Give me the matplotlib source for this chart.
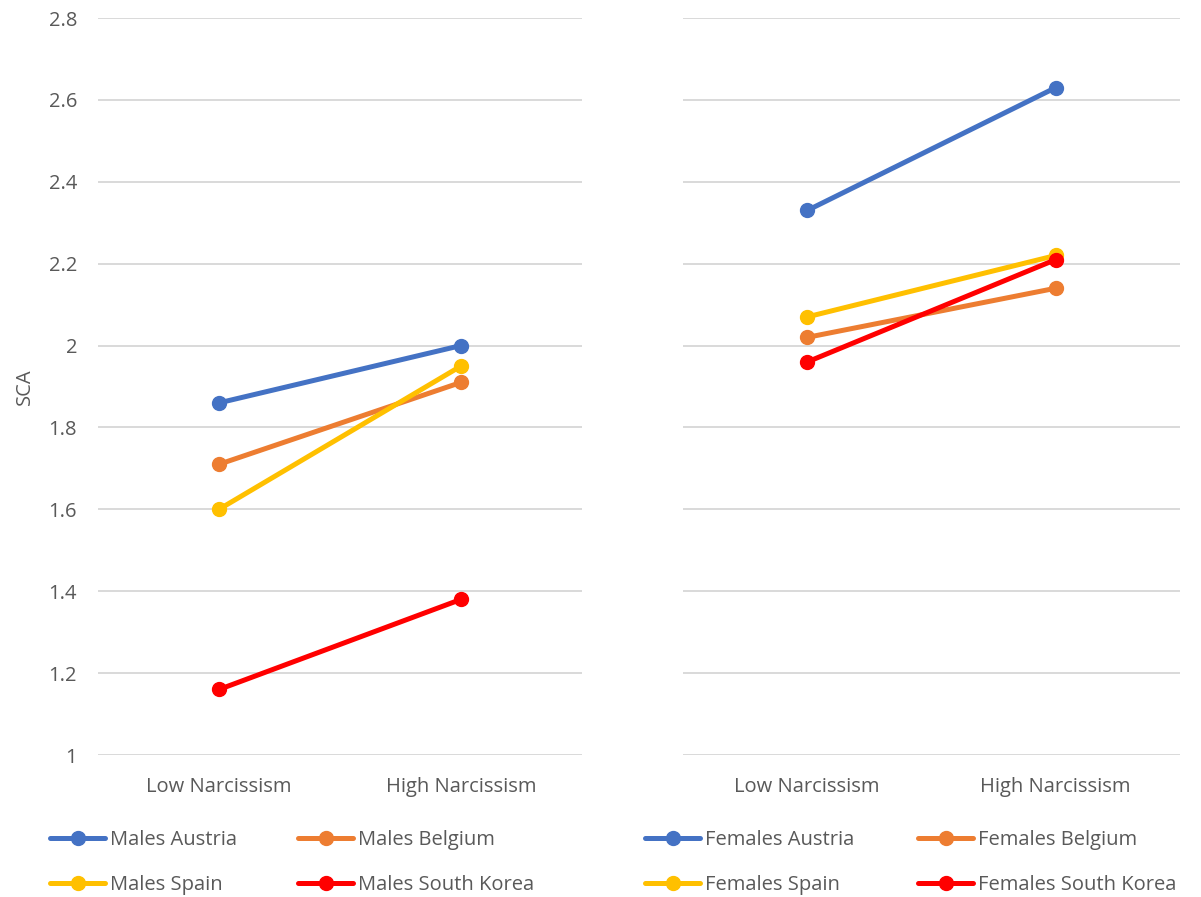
import matplotlib.pyplot as plt
from matplotlib.ticker import FuncFormatter

# --- data ---
categories = ["Low Narcissism", "High Narcissism"]
countries = ["Austria", "Belgium", "Spain", "South Korea"]
colors = ["#4472C4", "#ED7D31", "#FFC000", "#FF0000"]

males_austria = [1.86, 2.00]
males_belgium = [1.71, 1.91]
males_spain = [1.60, 1.95]
males_south_korea = [1.16, 1.38]

females_austria = [2.33, 2.63]
females_belgium = [2.02, 2.14]
females_spain = [2.07, 2.22]
females_south_korea = [1.96, 2.21]

males = [males_austria, males_belgium, males_spain, males_south_korea]
females = [females_austria, females_belgium, females_spain, females_south_korea]

plt.rcParams['font.family'] = ['Open Sans', 'DejaVu Sans']
txt = "#595959"
grid = "#D9D9D9"
fs = 14.5

fig = plt.figure(figsize=(12.01, 8.97), dpi=100)
ax1 = fig.add_axes([98 / 1201, 1 - 755 / 897, 484 / 1201, 737 / 897])
ax2 = fig.add_axes([683 / 1201, 1 - 755 / 897, 497 / 1201, 737 / 897])


def draw(ax, series, prefix, show_y):
    x = range(len(categories))
    lines = []
    for vals, c, name in zip(series, colors, countries):
        ln, = ax.plot(x, vals, color=c, lw=3.6, marker='o', ms=10,
                      label=f"{prefix} {name}", solid_capstyle='round')
        lines.append(ln)
    ax.set_xlim(-0.5, 1.5)
    ax.set_ylim(1, 2.8)
    ax.set_yticks([1 + 0.2 * i for i in range(10)])
    ax.yaxis.set_major_formatter(FuncFormatter(lambda v, p: f"{v:g}"))
    ax.set_xticks(list(x))
    ax.set_xticklabels(categories)
    ax.grid(axis='y', color=grid, lw=1.4)
    ax.set_axisbelow(True)
    for s in ax.spines.values():
        s.set_visible(False)
    ax.tick_params(length=0, labelsize=fs, colors=txt)
    ax.tick_params(axis='x', pad=16)
    ax.tick_params(axis='y', pad=15)
    if not show_y:
        ax.tick_params(axis='y', labelleft=False)
    return lines


h1 = draw(ax1, males, "Males", True)
h2 = draw(ax2, females, "Females", False)
ax1.set_ylabel("SCA", fontsize=fs, color=txt, labelpad=10)

leg_kw = dict(ncol=1, frameon=False, fontsize=fs, labelcolor=txt,
              handlelength=2.75, handletextpad=0.25, labelspacing=1.25,
              borderpad=0, borderaxespad=0, loc='upper left')
# Excel lays the legend out row by row: Austria, Belgium / Spain, South Korea
columns = [(h1[0::2], 50), (h1[1::2], 298), (h2[0::2], 645), (h2[1::2], 918)]
for hs, xpos in columns:
    fig.legend(hs, [h.get_label() for h in hs],
               bbox_to_anchor=(xpos / 1201, 1 - 830 / 897), **leg_kw)

fig.savefig("out.png", dpi=100)
